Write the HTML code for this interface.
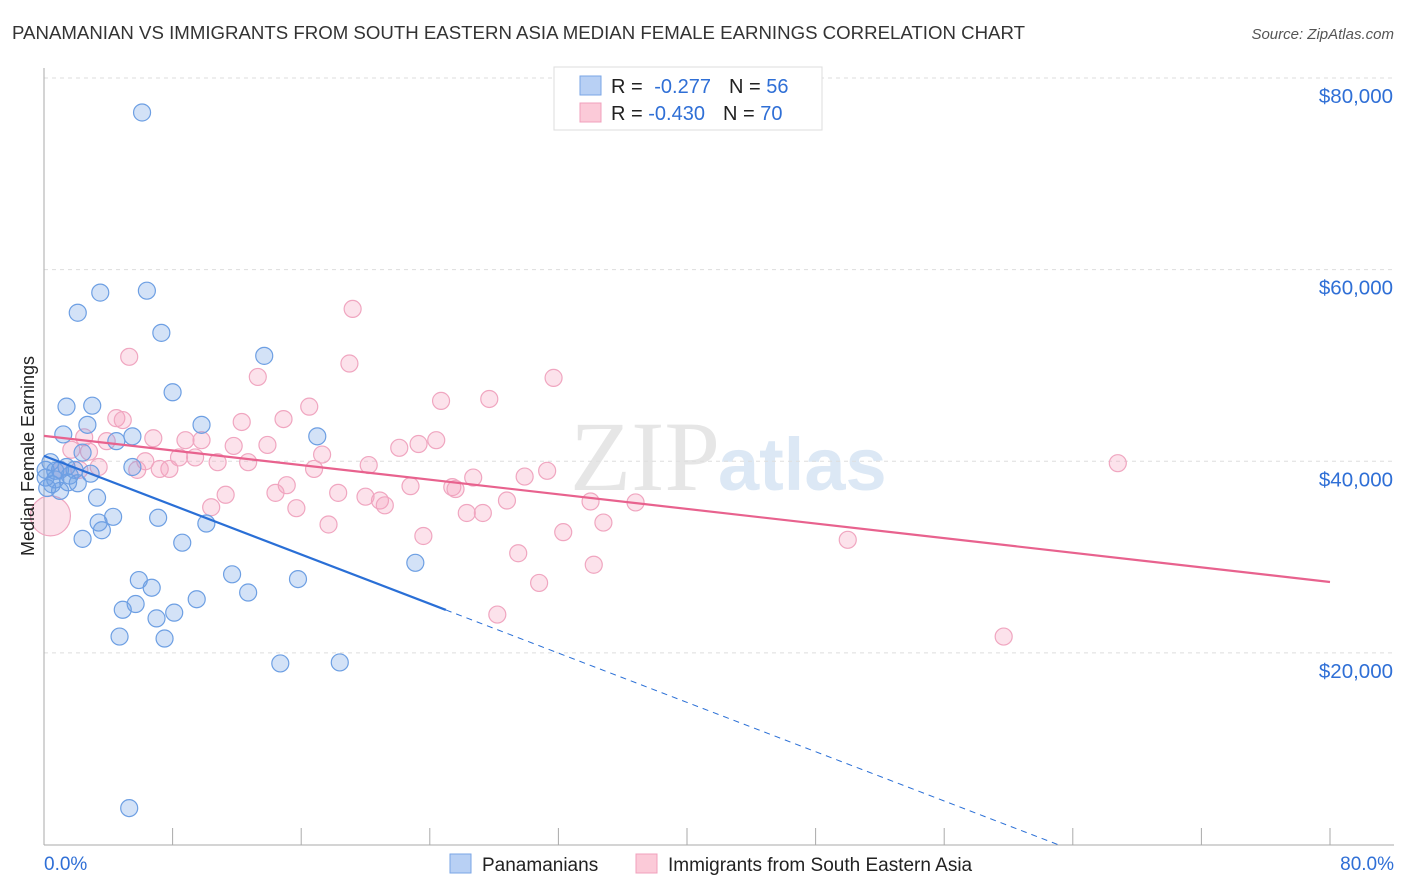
<!DOCTYPE html>
<html><head><meta charset="utf-8">
<style>
body{margin:0;background:#fff;font-family:"Liberation Sans",sans-serif;}
svg{display:block}
</style></head>
<body>
<svg id="chart" width="1406" height="892">
<text x="12" y="39" font-size="18" fill="#333" textLength="1013" lengthAdjust="spacingAndGlyphs">PANAMANIAN VS IMMIGRANTS FROM SOUTH EASTERN ASIA MEDIAN FEMALE EARNINGS CORRELATION CHART</text>
<text x="1394" y="39" font-size="15" fill="#555" font-style="italic" text-anchor="end">Source: ZipAtlas.com</text>
<text x="720" y="490" font-size="100" fill="#e6e6e6" text-anchor="end" font-family="Liberation Serif, serif">ZIP</text>
<text x="718" y="490" font-size="74" fill="#dce8f5" font-weight="bold">atlas</text>
<g id="grid"></g>
<g id="axes"></g>
<g id="marks"></g>
<text transform="translate(34,456) rotate(-90)" font-size="18" fill="#222" text-anchor="middle">Median Female Earnings</text>
<g>
<rect x="554" y="67" width="268" height="63" fill="#fff" stroke="#ddd"/>
<rect x="580" y="76" width="21" height="19" fill="#b8d0f4" stroke="#7aa6e6"/>
<rect x="580" y="103" width="21" height="19" fill="#fbcad8" stroke="#f0a0bc"/>
<text x="611" y="93" font-size="20" fill="#222">R = <tspan fill="#2f6fd6" dx="6">-0.277</tspan><tspan dx="18" fill="#222">N = </tspan><tspan fill="#2f6fd6">56</tspan></text>
<text x="611" y="120" font-size="20" fill="#222">R = <tspan fill="#2f6fd6">-0.430</tspan><tspan dx="18" fill="#222">N = </tspan><tspan fill="#2f6fd6">70</tspan></text>
</g>
<g>
<rect x="450" y="854" width="21" height="19" fill="#b8d0f4" stroke="#7aa6e6"/>
<text x="482" y="871" font-size="19" fill="#222">Panamanians</text>
<rect x="636" y="854" width="21" height="19" fill="#fbcad8" stroke="#f0a0bc"/>
<text x="668" y="871" font-size="19" fill="#222">Immigrants from South Eastern Asia</text>
</g>
</svg>
<script>
const yTicks=[20000,40000,60000,80000];
const yTickLabels=["$20,000","$40,000","$60,000","$80,000"];
const xTickLabels=["0.0%","80.0%"];
const blueX=[6.1,3.5,6.4,2.1,7.3,13.7,8.0,1.4,3.0,9.8,2.7,1.2,17.0,4.5,5.5,2.4,0.4,1.4,5.5,2.9,0.7,0.1,0.5,1.5,2.1,1.0,3.3,4.3,7.1,3.4,3.6,10.1,2.4,8.6,23.1,5.9,11.7,15.8,6.7,12.7,9.5,5.7,4.9,8.1,7.0,4.7,7.5,14.7,18.4,5.3,1.0,1.6,0.1,0.2,1.9,0.7];
const blueY=[76.4,57.6,57.8,55.5,53.4,51.0,47.2,45.7,45.8,43.8,43.8,42.8,42.6,42.1,42.6,40.9,39.9,39.4,39.4,38.7,39.0,38.3,37.6,37.8,37.7,36.9,36.2,34.2,34.1,33.6,32.8,33.5,31.9,31.5,29.4,27.6,28.2,27.7,26.8,26.3,25.6,25.1,24.5,24.2,23.6,21.7,21.5,18.9,19.0,3.8,39.1,38.5,39.1,37.2,39.1,38.1];
const pinkX=[19.2,5.3,19.0,13.3,31.7,27.7,24.7,16.5,4.5,4.9,12.3,14.9,6.8,2.5,9.8,24.4,23.3,11.8,8.8,13.9,22.1,17.3,3.9,2.8,1.7,8.4,9.4,6.3,10.8,12.7,20.2,3.4,5.8,7.8,16.8,7.2,31.3,29.9,26.7,25.4,15.1,25.6,14.4,22.8,11.3,18.3,20.0,20.9,21.2,28.8,34.0,36.8,10.4,15.7,26.3,27.3,34.8,17.7,23.6,32.3,50.0,29.5,34.2,30.8,28.2,59.7,66.8,0.4,1.0,2.2];
const pinkY=[55.9,50.9,50.2,48.8,48.7,46.5,46.3,45.7,44.5,44.3,44.1,44.4,42.4,42.5,42.2,42.2,41.8,41.6,42.2,41.7,41.4,40.7,42.1,41.0,41.2,40.4,40.4,40.0,39.9,39.9,39.6,39.4,39.1,39.2,39.2,39.2,39.0,38.4,38.3,37.3,37.5,37.1,36.7,37.4,36.5,36.7,36.3,35.9,35.4,35.9,35.8,35.7,35.2,35.1,34.6,34.6,33.6,33.4,32.2,32.6,31.8,30.4,29.2,27.3,24.0,21.7,39.8,34.3,39.1,39.1];
const pinkTrend=[42650,27400]; // at x=0 and x=80
const blueTrend=[40560,24480,25]; // y at 0, y at x=25 (solid end)
const NS="http://www.w3.org/2000/svg";
const X=v=>44+v*(1286/80);
const Y=v=>844.5-v*(766.5/80000);
function mk(tag,attrs,parent){const e=document.createElementNS(NS,tag);for(const k in attrs)e.setAttribute(k,attrs[k]);parent.appendChild(e);return e;}
const grid=document.getElementById('grid'),axes=document.getElementById('axes'),marks=document.getElementById('marks');
yTicks.forEach((t,i)=>{
  const l=mk('line',{x1:44,x2:1394,y1:Y(t),y2:Y(t),stroke:'#ddd','stroke-dasharray':'4,4'},grid);
  
  
  const tx=mk('text',{x:1393,y:Y(t)+25,'font-size':20.5,fill:'#2f6fd6','text-anchor':'end'},axes);
  tx.textContent=yTickLabels[i];
  
  
});
const ax=mk('line',{x1:44,x2:44,y1:68,y2:845,stroke:'#aaa'},axes);


const bx=mk('line',{x1:44,x2:1394,y1:845,y2:845,stroke:'#aaa'},axes);


for(let i=0;i<=10;i++){const t=mk('line',{x1:X(i*8),x2:X(i*8),y1:828,y2:845,stroke:'#aaa'},axes);
  
  }
[[0,44,'start'],[80,1394,'end']].forEach((d,i)=>{const t=mk('text',{x:d[1],y:870,'font-size':19,fill:'#2f6fd6','text-anchor':d[2]},axes);t.textContent=xTickLabels[i];
  
  });
function dots(xs,ys,fill,stroke,name){xs.forEach((x,i)=>{
  const r=(name==='pink-point'&&i===pinkX.length-3)?20:8.5;
  const c=mk('circle',{cx:X(x),cy:Y(ys[i]*1000),r:r,fill:fill,stroke:stroke,'stroke-width':1.2},marks);
  
  });}
dots(pinkX,pinkY,'rgba(244,160,190,0.3)','#f0a6c0','pink-point');
dots(blueX,blueY,'rgba(110,160,230,0.3)','#6d9fe3','blue-point');
const pl=mk('line',{x1:X(0),y1:Y(pinkTrend[0]),x2:X(80),y2:Y(pinkTrend[1]),stroke:'#e8628e','stroke-width':2.2},marks);


const bs=(blueTrend[1]-blueTrend[0])/blueTrend[2];
const bl=mk('line',{x1:X(0),y1:Y(blueTrend[0]),x2:X(blueTrend[2]),y2:Y(blueTrend[1]),stroke:'#2a6fd6','stroke-width':2.2},marks);


const xz=-blueTrend[0]/bs;
const bd=mk('line',{x1:X(blueTrend[2]),y1:Y(blueTrend[1]),x2:X(xz),y2:Y(0),stroke:'#2a6fd6','stroke-width':1,'stroke-dasharray':'6,5'},marks);


</script>
</body></html>
